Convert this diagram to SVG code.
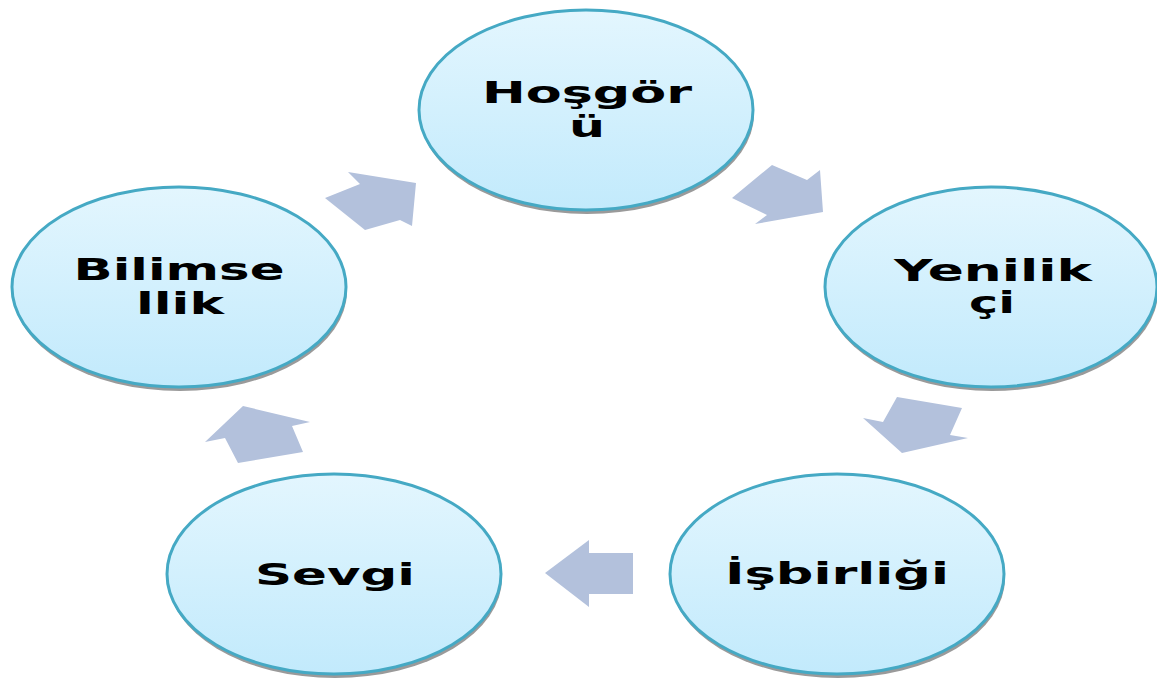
<svg xmlns="http://www.w3.org/2000/svg" width="1157" height="678" viewBox="0 0 1157 678">
  <defs>
    <linearGradient id="fillGrad" x1="0" y1="0" x2="0" y2="1">
      <stop offset="0" stop-color="#e3f6fe"/>
      <stop offset="1" stop-color="#c2eafc"/>
    </linearGradient>
  </defs>
  <style>
    .shadow { fill: #9a9a9a; }
    .node { fill: url(#fillGrad); stroke: #45a9c4; stroke-width: 3; }
    .label { font-family: "DejaVu Sans", Verdana, sans-serif; font-weight: bold; font-size: 30px; fill: #000; text-anchor: middle; }
    .arrow { fill: #b3c1dc; }
  </style>
  <rect width="1157" height="678" fill="#ffffff"/>

  <g id="connectors">
    <polygon class="arrow" points="325,198 360,184 348,172 416,183 412,226 400,220 365,230"/>
    <polygon class="arrow" points="732,198 772,165 807,180 820,170 823,212 755,224 767,215"/>
    <polygon class="arrow" points="897,397 962,408 950,435 968,438 902,453 863,418 883,422"/>
    <polygon class="arrow" points="243,406 310,422 292,426 303,452 238,463 225,438 205,442"/>
    <polygon class="arrow" points="545,573 589,540 589,553 633,553 633,594 589,594 589,607"/>
  </g>

  <g id="node-hosgoru">
    <ellipse class="shadow" cx="587" cy="114" rx="167" ry="100"/>
    <ellipse class="node" cx="586" cy="110" rx="167" ry="100"/>
    <text class="label" x="587" y="103" textLength="210" lengthAdjust="spacingAndGlyphs">Hoşgör</text>
    <text class="label" x="587" y="137" textLength="36" lengthAdjust="spacingAndGlyphs">ü</text>
  </g>

  <g id="node-yenilikci">
    <ellipse class="shadow" cx="992" cy="291" rx="166" ry="100"/>
    <ellipse class="node" cx="991" cy="287" rx="166" ry="100"/>
    <text class="label" x="993" y="281" textLength="198" lengthAdjust="spacingAndGlyphs">Yenilik</text>
    <text class="label" x="992" y="313" textLength="46" lengthAdjust="spacingAndGlyphs">çi</text>
  </g>

  <g id="node-isbirligi">
    <ellipse class="shadow" cx="838" cy="578" rx="167" ry="100"/>
    <ellipse class="node" cx="837" cy="574" rx="167" ry="100"/>
    <text class="label" x="837" y="584" textLength="224" lengthAdjust="spacingAndGlyphs">İşbirliği</text>
  </g>

  <g id="node-sevgi">
    <ellipse class="shadow" cx="335" cy="578" rx="167" ry="100"/>
    <ellipse class="node" cx="334" cy="574" rx="167" ry="100"/>
    <text class="label" x="335" y="585" textLength="160" lengthAdjust="spacingAndGlyphs">Sevgi</text>
  </g>

  <g id="node-bilimsellik">
    <ellipse class="shadow" cx="180" cy="291" rx="167" ry="100"/>
    <ellipse class="node" cx="179" cy="287" rx="167" ry="100"/>
    <text class="label" x="179" y="280" textLength="211" lengthAdjust="spacingAndGlyphs">Bilimse</text>
    <text class="label" x="180" y="314" textLength="88" lengthAdjust="spacingAndGlyphs">llik</text>
  </g>
</svg>
